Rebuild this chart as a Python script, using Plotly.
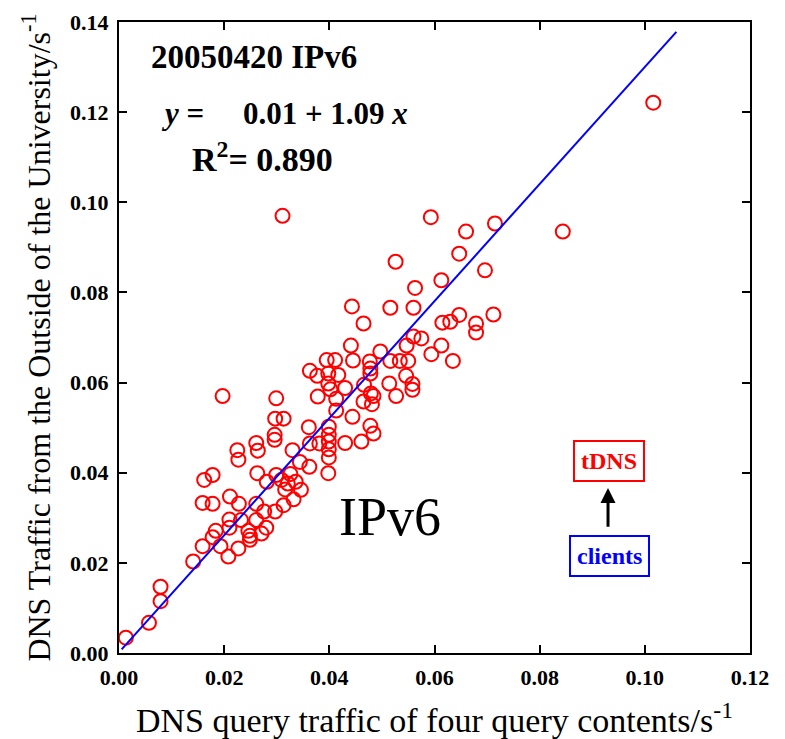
import plotly.graph_objects as go

# Scatter data (x: DNS query traffic, y: DNS traffic from outside)
x_vals = [0.1016, 0.0593, 0.0660, 0.0715, 0.0844, 0.0526, 0.0647, 0.0696, 0.0613, 0.0563,
          0.0516, 0.0560, 0.0647, 0.0712, 0.0615, 0.0630, 0.0679, 0.0679, 0.0560, 0.0575,
          0.0547, 0.0613, 0.0594, 0.0635, 0.0516, 0.0534, 0.0550, 0.0497, 0.0546, 0.0443,
          0.0465, 0.0441, 0.0445, 0.0477, 0.0478, 0.0478, 0.0558, 0.0558, 0.0514, 0.0527,
          0.0430, 0.0466, 0.0479, 0.0484, 0.0465, 0.0481, 0.0444, 0.0395, 0.0411, 0.0363,
          0.0377, 0.0398, 0.0417, 0.0398, 0.0402, 0.0378, 0.0413, 0.0299, 0.0413, 0.0297,
          0.0313, 0.0361, 0.0399, 0.0478, 0.0484, 0.0296, 0.0296, 0.0399, 0.0399, 0.0399,
          0.0399, 0.0363, 0.0381, 0.0430, 0.0461, 0.0330, 0.0344, 0.0362, 0.0398, 0.0261,
          0.0264, 0.0225, 0.0227, 0.0162, 0.0178, 0.0263, 0.0299, 0.0309, 0.0326, 0.0321,
          0.0336, 0.0316, 0.0346, 0.0281, 0.0332, 0.0313, 0.0159, 0.0178, 0.0211, 0.0228,
          0.0261, 0.0276, 0.0297, 0.0210, 0.0232, 0.0261, 0.0280, 0.0246, 0.0249, 0.0271,
          0.0184, 0.0178, 0.0210, 0.0159, 0.0193, 0.0227, 0.0208, 0.0141, 0.0249, 0.0197,
          0.0079, 0.0079, 0.0057, 0.0013, 0.0311]
y_vals = [0.1221, 0.0967, 0.0935, 0.0953, 0.0935, 0.0868, 0.0886, 0.0849, 0.0827, 0.0810,
          0.0766, 0.0766, 0.0750, 0.0751, 0.0733, 0.0735, 0.0731, 0.0711, 0.0702, 0.0698,
          0.0682, 0.0682, 0.0663, 0.0648, 0.0648, 0.0648, 0.0648, 0.0669, 0.0615, 0.0769,
          0.0731, 0.0682, 0.0649, 0.0647, 0.0631, 0.0620, 0.0597, 0.0584, 0.0598, 0.0570,
          0.0588, 0.0595, 0.0576, 0.0570, 0.0558, 0.0552, 0.0524, 0.0650, 0.0650, 0.0626,
          0.0615, 0.0620, 0.0617, 0.0598, 0.0585, 0.0569, 0.0564, 0.0565, 0.0538, 0.0520,
          0.0520, 0.0501, 0.0502, 0.0504, 0.0487, 0.0484, 0.0473, 0.0484, 0.0469, 0.0452,
          0.0434, 0.0465, 0.0465, 0.0466, 0.0469, 0.0450, 0.0424, 0.0413, 0.0399, 0.0466,
          0.0449, 0.0450, 0.0429, 0.0384, 0.0395, 0.0399, 0.0395, 0.0384, 0.0397, 0.0376,
          0.0380, 0.0363, 0.0362, 0.0380, 0.0341, 0.0328, 0.0333, 0.0331, 0.0347, 0.0331,
          0.0331, 0.0314, 0.0314, 0.0296, 0.0295, 0.0295, 0.0278, 0.0271, 0.0260, 0.0265,
          0.0271, 0.0257, 0.0278, 0.0237, 0.0237, 0.0232, 0.0214, 0.0203, 0.0251, 0.0570,
          0.0147, 0.0115, 0.0067, 0.0034, 0.0970]

# Fitted line as drawn
fit_x = [0.0005, 0.1060]
fit_y = [0.0008, 0.1378]

x_ticks = [0.00, 0.02, 0.04, 0.06, 0.08, 0.10, 0.12]
y_ticks = [0.00, 0.02, 0.04, 0.06, 0.08, 0.10, 0.12, 0.14]

FONT = "Liberation Serif"

fig = go.Figure()
fig.add_trace(go.Scatter(x=x_vals, y=y_vals, mode="markers",
                         marker=dict(symbol="circle-open", size=14, color="#ff0000",
                                     line=dict(width=2, color="#ff0000")),
                         showlegend=False, cliponaxis=False))
fig.add_trace(go.Scatter(x=fit_x, y=fit_y, mode="lines",
                         line=dict(color="#0000ff", width=2), showlegend=False))

axis_common = dict(showline=True, linecolor="black", linewidth=2, mirror="allticks",
                   ticks="inside", ticklen=8, tickwidth=2, tickcolor="black",
                   showgrid=False, zeroline=False, automargin=False,
                   tickfont=dict(family=FONT, size=22, color="black", weight="bold"))

fig.update_xaxes(range=[0, 0.12], tickvals=x_ticks, ticktext=[f"{v:.2f}" for v in x_ticks],
                 ticklabelstandoff=4,
                 title=dict(text="DNS query traffic of four query contents/s<sup>-1</sup>",
                            font=dict(family=FONT, size=34, color="black"), standoff=20),
                 **axis_common)
fig.update_yaxes(range=[0, 0.14], tickvals=y_ticks, ticktext=[f"{v:.2f}" for v in y_ticks],
                 ticklabelstandoff=4,
                 title=dict(text="DNS Traffic from the Outside of the University/s<sup>-1</sup>",
                            font=dict(family=FONT, size=32, color="black"), standoff=10),
                 **axis_common)

annots = [
    dict(x=0.0057, y=0.1322, xanchor="left", yanchor="middle",
         text="<b>20050420 IPv6</b>", font=dict(family=FONT, size=33, color="black")),
    dict(x=0.0076, y=0.1198, xanchor="left", yanchor="middle",
         text="<b><i>y</i> =\u00a0\u00a0\u00a0\u00a0 0.01 + 1.09 <i>x</i></b>",
         font=dict(family=FONT, size=31, color="black")),
    dict(x=0.0135, y=0.1100, xanchor="left", yanchor="middle",
         text="<b>R<sup>2</sup>= 0.890</b>", font=dict(family=FONT, size=34, color="black")),
    dict(x=0.0515, y=0.0302, xanchor="center", yanchor="middle",
         text="IPv6", font=dict(family=FONT, size=54, color="black")),
    dict(x=0.0932, y=0.0426, xanchor="center", yanchor="middle",
         text="<b>tDNS</b>", font=dict(family=FONT, size=24, color="#ff0000"),
         bordercolor="#ff0000", borderwidth=2, borderpad=6, bgcolor="white"),
    dict(x=0.0932, y=0.0215, xanchor="center", yanchor="middle",
         text="<b>clients</b>", font=dict(family=FONT, size=24, color="#0000ff"),
         bordercolor="#0000ff", borderwidth=2, borderpad=6, bgcolor="white"),
    dict(x=0.0930, y=0.0366, ax=0.0930, ay=0.0277, xref="x", yref="y", axref="x", ayref="y",
         showarrow=True, arrowhead=2, arrowsize=1, arrowwidth=3, arrowcolor="black", text=""),
]
for a in annots:
    a.setdefault("xref", "x")
    a.setdefault("yref", "y")
    a.setdefault("showarrow", False)
fig.update_layout(annotations=annots)

fig.update_layout(width=785, height=739, plot_bgcolor="white", paper_bgcolor="white",
                  margin=dict(l=119, r=35, t=22, b=86),
                  font=dict(family=FONT, color="black"))

fig.write_html("out.html")
